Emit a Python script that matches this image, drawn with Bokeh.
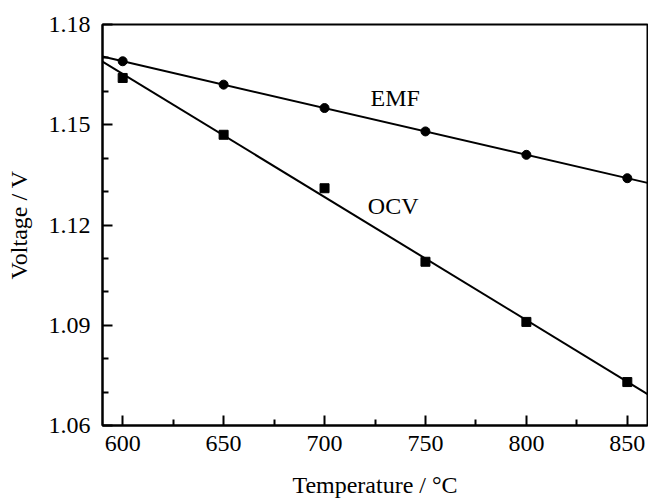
import numpy as np
from bokeh.plotting import figure
from bokeh.models import Range1d, FixedTicker, ColumnDataSource
from bokeh.core.properties import value
from bokeh.embed import file_html
from bokeh.resources import INLINE

# ---- data ----
temperature = [600, 650, 700, 750, 800, 850]
emf = [1.169, 1.162, 1.155, 1.148, 1.141, 1.134]
ocv = [1.164, 1.147, 1.131, 1.109, 1.091, 1.073]

x_ticks = [600, 650, 700, 750, 800, 850]
x_minor = [625, 675, 725, 775, 825]
y_ticks = [1.06, 1.09, 1.12, 1.15, 1.18]
y_minor = [1.07, 1.08, 1.10, 1.11, 1.13, 1.14, 1.16, 1.17]

x_lo, x_hi = 590, 860
y_lo, y_hi = 1.06, 1.18

series_labels = ["EMF", "OCV"]
label_x = [735, 734]
label_y = [1.158, 1.1257]

FONT = "Liberation Serif"

p = figure(width=648, height=501, output_backend="svg", toolbar_location=None,
           x_range=Range1d(x_lo, x_hi), y_range=Range1d(y_lo, y_hi),
           min_border_left=102, min_border_right=1, min_border_top=24, min_border_bottom=76)

p.xgrid.visible = False
p.ygrid.visible = False
p.outline_line_color = "black"
p.outline_line_width = 2
p.background_fill_color = "white"
p.border_fill_color = "white"

# linear fits over the full axis range
xf = np.array([x_lo, x_hi], dtype=float)
for ys in (emf, ocv):
    k, b = np.polyfit(temperature, ys, 1)
    p.line(xf, k * xf + b, line_color="black", line_width=2)

src = ColumnDataSource(dict(t=temperature, emf=emf, ocv=ocv))
p.scatter("t", "emf", source=src, marker="circle", size=9, fill_color="black", line_color="black")
p.scatter("t", "ocv", source=src, marker="square", size=9, fill_color="black", line_color="black")

p.text(x=label_x, y=label_y, text=series_labels, text_font=value(FONT), text_font_size="24px",
       text_align="center", text_baseline="middle", text_color="black")

for ax in (p.xaxis[0], p.yaxis[0]):
    ax.axis_line_width = 2
    ax.axis_line_color = "black"
    ax.major_tick_line_width = 2
    ax.minor_tick_line_width = 2
    ax.major_tick_in = 10
    ax.major_tick_out = 0
    ax.minor_tick_in = 6
    ax.minor_tick_out = 0
    ax.major_label_text_font = FONT
    ax.major_label_text_font_size = "24px"
    ax.major_label_text_color = "black"
    ax.axis_label_text_font = FONT
    ax.axis_label_text_font_size = "24px"
    ax.axis_label_text_font_style = "normal"
    ax.axis_label_text_color = "black"

p.xaxis.ticker = FixedTicker(ticks=x_ticks, minor_ticks=x_minor)
p.yaxis.ticker = FixedTicker(ticks=y_ticks, minor_ticks=y_minor)
p.yaxis.major_label_overrides = {v: f"{v:.2f}" for v in y_ticks}
p.xaxis.major_label_standoff = 10
p.yaxis.major_label_standoff = 12
p.xaxis.axis_label = "Temperature / \u00b0C"
p.yaxis.axis_label = "Voltage / V"
p.xaxis.axis_label_standoff = 18
p.yaxis.axis_label_standoff = 14

open("out.html", "w").write(file_html(p, INLINE))
